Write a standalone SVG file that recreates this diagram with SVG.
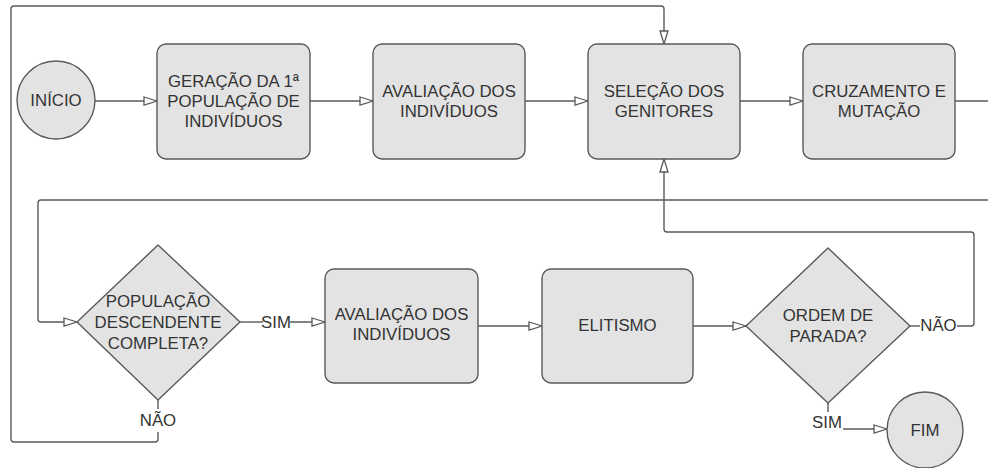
<svg xmlns="http://www.w3.org/2000/svg" width="988" height="468" viewBox="0 0 988 468">
  <style>
    .shape { fill: #e3e3e3; stroke: #5a5a5a; stroke-width: 1.4; stroke-linejoin: round; }
    .conn { fill: none; stroke: #5a5a5a; stroke-width: 1.4; stroke-linejoin: round; }
    .lbl { font-family: "Liberation Sans", Arial, sans-serif; font-size: 16.8px; fill: #333333; text-anchor: middle; dominant-baseline: central; }
  </style>
  <defs>
    <marker id="arrow" markerUnits="userSpaceOnUse" markerWidth="16" markerHeight="12" refX="14" refY="5" orient="auto">
      <path d="M1,1 L14,5 L1,9 Z" fill="#ffffff" stroke="#5a5a5a" stroke-width="1.3" stroke-linejoin="miter"/>
    </marker>
  </defs>
  <rect width="988" height="468" fill="#ffffff"/>

  <g id="connectors">
    <path class="conn" d="M95 101 H157" marker-end="url(#arrow)"/>
    <path class="conn" d="M310 101 H373" marker-end="url(#arrow)"/>
    <path class="conn" d="M525 101 H588" marker-end="url(#arrow)"/>
    <path class="conn" d="M740 101 H803" marker-end="url(#arrow)"/>
    <path class="conn" d="M955 101 H995 V200 H41 Q38 200 38 203 V319 Q38 322 41 322 H77" marker-end="url(#arrow)"/>
    <path class="conn" d="M240 322 H263"/>
    <path class="conn" d="M290 322 H325" marker-end="url(#arrow)"/>
    <path class="conn" d="M158 400 V409"/>
    <path class="conn" d="M158 432 V439 Q158 442 155 442 H14 Q11 442 11 439 V9 Q11 6 14 6 H661 Q664 6 664 9 V44" marker-end="url(#arrow)"/>
    <path class="conn" d="M478 326 H542" marker-end="url(#arrow)"/>
    <path class="conn" d="M693 326 H746" marker-end="url(#arrow)"/>
    <path class="conn" d="M910 326 H920"/>
    <path class="conn" d="M957 326 H971 Q974 326 974 323 V235 Q974 232 971 232 H667 Q664 232 664 229 V159" marker-end="url(#arrow)"/>
    <path class="conn" d="M828 403 V412"/>
    <path class="conn" d="M843 429 H887" marker-end="url(#arrow)"/>
    <text class="lbl" x="276" y="322">SIM</text>
    <text class="lbl" x="158" y="420">NÃO</text>
    <text class="lbl" x="938.5" y="325">NÃO</text>
    <text class="lbl" x="827" y="422">SIM</text>
  </g>

  <g id="inicio">
    <circle class="shape" cx="56" cy="100" r="39"/>
    <text class="lbl" x="56" y="100">INÍCIO</text>
  </g>
  <g id="geracao">
    <rect class="shape" x="157" y="44" width="153" height="115" rx="9"/>
    <text class="lbl" x="233.5" y="81">GERAÇÃO DA 1ª</text>
    <text class="lbl" x="233.5" y="101">POPULAÇÃO DE</text>
    <text class="lbl" x="233.5" y="121">INDIVÍDUOS</text>
  </g>
  <g id="avaliacao1">
    <rect class="shape" x="373" y="44" width="152" height="115" rx="9"/>
    <text class="lbl" x="449" y="91">AVALIAÇÃO DOS</text>
    <text class="lbl" x="449" y="111">INDIVÍDUOS</text>
  </g>
  <g id="selecao">
    <rect class="shape" x="588" y="44" width="152" height="115" rx="9"/>
    <text class="lbl" x="664" y="91">SELEÇÃO DOS</text>
    <text class="lbl" x="664" y="111">GENITORES</text>
  </g>
  <g id="cruzamento">
    <rect class="shape" x="803" y="44" width="152" height="115" rx="9"/>
    <text class="lbl" x="879" y="91">CRUZAMENTO E</text>
    <text class="lbl" x="879" y="111">MUTAÇÃO</text>
  </g>
  <g id="populacao-completa">
    <path class="shape" d="M158 245 L240 322 L158 400 L77 322 Z"/>
    <text class="lbl" x="158" y="301">POPULAÇÃO</text>
    <text class="lbl" x="158" y="322">DESCENDENTE</text>
    <text class="lbl" x="158" y="343">COMPLETA?</text>
  </g>
  <g id="avaliacao2">
    <rect class="shape" x="325" y="269" width="153" height="114" rx="9"/>
    <text class="lbl" x="401.5" y="314">AVALIAÇÃO DOS</text>
    <text class="lbl" x="401.5" y="334">INDIVÍDUOS</text>
  </g>
  <g id="elitismo">
    <rect class="shape" x="542" y="269" width="151" height="114" rx="9"/>
    <text class="lbl" x="617.5" y="325">ELITISMO</text>
  </g>
  <g id="ordem-parada">
    <path class="shape" d="M828 248 L910 326 L828 403 L746 326 Z"/>
    <text class="lbl" x="828" y="315">ORDEM DE</text>
    <text class="lbl" x="828" y="336">PARADA?</text>
  </g>
  <g id="fim">
    <circle class="shape" cx="925" cy="430" r="38"/>
    <text class="lbl" x="925" y="430">FIM</text>
  </g>
</svg>
